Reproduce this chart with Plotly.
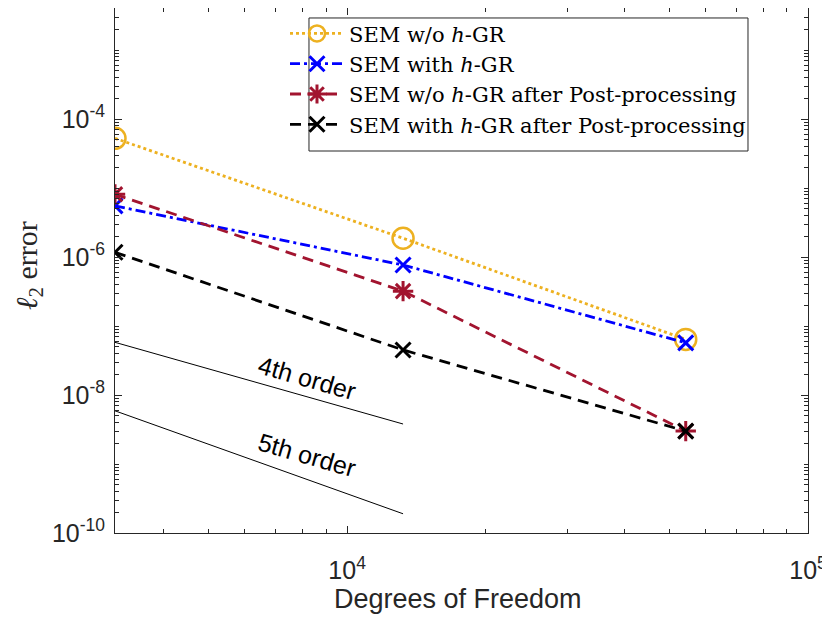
import numpy as np
import plotly.graph_objects as go

# degrees of freedom (three meshes) and l2 errors
dof = [3136, 13225, 54289]
err_sem = [5.25e-5, 1.87e-6, 6.4e-8]
err_sem_hgr = [5.5e-6, 7.66e-7, 5.7e-8]
err_sem_pp = [8.1e-6, 3.2e-7, 3.0e-9]
err_sem_hgr_pp = [1.17e-6, 4.5e-8, 3.0e-9]

# slope reference lines
ref_dof = [3136, 13225]
ref_4th = [5.8e-8, 3.8e-9]
ref_5th = [5.9e-9, 1.9e-10]

names = ['SEM w/o <i>h</i>-GR',
         'SEM with <i>h</i>-GR',
         'SEM w/o <i>h</i>-GR after Post-processing',
         'SEM with <i>h</i>-GR after Post-processing']

y_major = [1e-10, 1e-8, 1e-6, 1e-4]
y_major_text = ['10<sup>-10</sup>', '10<sup>-8</sup>', '10<sup>-6</sup>', '10<sup>-4</sup>']
x_major = [1e4, 1e5]
x_major_text = ['10<sup>4</sup>', '10<sup>5</sup>']

axis_col = '#262626'
serif = 'DejaVu Serif'
sans = 'Liberation Sans'

fig = go.Figure()

# reference slopes, thin black
for yy in (ref_4th, ref_5th):
	fig.add_trace(go.Scatter(x=ref_dof, y=yy, mode='lines', showlegend=False,
		line=dict(color='black', width=1)))

styles = [
	dict(color='#EDB120', dash='3px,3px', symbol='circle-open', size=21),
	dict(color='#0000FF', dash='10px,4px,3px,4px', symbol='x-thin-open', size=15),
	dict(color='#A2142F', dash='11px,7px', symbol='asterisk-open', size=17),
	dict(color='#000000', dash='11px,7px', symbol='x-thin-open', size=15),
]
for yy, nm, st in zip([err_sem, err_sem_hgr, err_sem_pp, err_sem_hgr_pp], names, styles):
	fig.add_trace(go.Scatter(
		x=dof, y=yy, name=nm, mode='lines+markers',
		line=dict(color=st['color'], width=2.8, dash=st['dash']),
		marker=dict(symbol=st['symbol'], size=st['size'], color=st['color'],
			line=dict(color=st['color'], width=3 if st['symbol'] != 'circle-open' else 2.5)),
	))

# minor ticks, every integer multiple inside each decade
y_minor = [k * 10.0**e for e in range(-10, -2) for k in range(2, 11)]
y_minor = [v for v in y_minor if v not in y_major and v <= 5e-3]
x_minor = [k * 10.0**e for e in range(3, 5) for k in range(2, 10)]
x_minor = [v for v in x_minor if v > 3136]

fig.add_annotation(x=np.log10(8200), y=np.log10(1.75e-8), text='4th order', showarrow=False,
	textangle=16, font=dict(family=sans, size=25, color='black'))
fig.add_annotation(x=np.log10(8200), y=np.log10(1.35e-9), text='5th order', showarrow=False,
	textangle=16, font=dict(family=sans, size=25, color='black'))

# axis titles
fig.add_annotation(xref='paper', yref='paper', x=0.495, y=-0.1257, text='Degrees of Freedom',
	showarrow=False, xanchor='center', yanchor='middle',
	font=dict(family=sans, size=27, color=axis_col))
fig.add_annotation(xref='paper', yref='paper', x=-0.1544, y=0.5086,
	text='<i>ℓ</i><sub>2</sub> error', showarrow=False, textangle=-90,
	xanchor='left', yanchor='middle',
	font=dict(family='Liberation Serif', size=30, color=axis_col))

# legend frame drawn as a shape, plotly pads its own box too much on the left
fig.add_shape(type='rect', xref='paper', yref='paper', x0=0.2799, x1=0.9134, y0=0.7276, y1=0.981,
	line=dict(color=axis_col, width=1), fillcolor='white', layer='below')

# page body has an 8px margin, so the figure is 8px smaller
fig.update_layout(
	width=822, height=617,
	margin=dict(l=107, r=22, t=0, b=92),
	paper_bgcolor='white', plot_bgcolor='white',
	font=dict(family=sans, size=25, color=axis_col),
	legend=dict(x=0.2453, y=0.99, xanchor='left', yanchor='top',
		borderwidth=0, bgcolor='rgba(0,0,0,0)',
		font=dict(family=serif, size=21, color='black'),
		itemwidth=54, tracegroupgap=0),
	xaxis=dict(type='log', range=[np.log10(3136), 5],
		tickvals=x_major, ticktext=x_major_text,
		ticks='inside', ticklen=7, tickcolor=axis_col, tickwidth=1,
		minor=dict(tickvals=x_minor, ticks='inside', ticklen=4, tickcolor=axis_col, tickwidth=1),
		showline=True, linecolor=axis_col, linewidth=1, mirror='ticks',
		showgrid=False, zeroline=False, ticklabelstandoff=15,
		tickfont=dict(family=sans, size=25, color=axis_col)),
	yaxis=dict(type='log', range=[-10, -2.391],
		tickvals=y_major, ticktext=y_major_text,
		ticks='inside', ticklen=7, tickcolor=axis_col, tickwidth=1,
		minor=dict(tickvals=y_minor, ticks='inside', ticklen=4, tickcolor=axis_col, tickwidth=1),
		showline=True, linecolor=axis_col, linewidth=1, mirror='ticks',
		showgrid=False, zeroline=False, ticklabelstandoff=4,
		tickfont=dict(family=sans, size=25, color=axis_col)),
)

fig.write_html("out.html")
